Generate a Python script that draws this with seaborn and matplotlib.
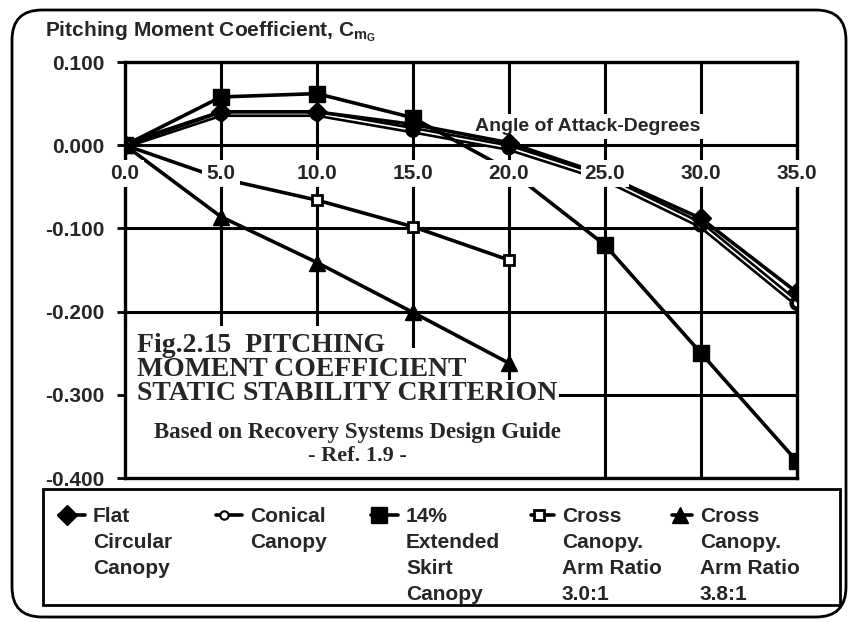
import matplotlib
matplotlib.use("Agg")
import matplotlib.pyplot as plt
import matplotlib.patheffects as pe
from matplotlib.patches import FancyBboxPatch, Rectangle
from matplotlib.lines import Line2D
import seaborn as sns

# values
angles = [0, 5, 10, 15, 20, 25, 30, 35]
flat_circular = [0.0, 0.040, 0.040, 0.025, 0.003, -0.036, -0.088, -0.177]
conical = [0.0, 0.038, 0.038, 0.018, -0.003, -0.040, -0.096, -0.190]
extended_skirt = [0.0, 0.058, 0.062, 0.033, -0.030, -0.120, -0.250, -0.380]
cross_angles = [0, 5, 10, 15, 20]
cross_30 = [0.0, -0.040, -0.066, -0.098, -0.138]
cross_38 = [0.0, -0.086, -0.141, -0.201, -0.262]

legend_labels = ["Flat\nCircular\nCanopy",
                 "Conical\nCanopy",
                 "14%\nExtended\nSkirt\nCanopy",
                 "Cross\nCanopy.\nArm Ratio\n3.0:1",
                 "Cross\nCanopy.\nArm Ratio\n3.8:1"]
x_tick_labels = ["0.0", "5.0", "10.0", "15.0", "20.0", "25.0", "30.0", "35.0"]
y_ticks = [0.1, 0.0, -0.1, -0.2, -0.3, -0.4]
y_tick_labels = ["0.100", "0.000", "-0.100", "-0.200", "-0.300", "-0.400"]
caption = "Fig.2.15  PITCHING\nMOMENT COEFFICIENT\nSTATIC STABILITY CRITERION"

sns.set_theme(style="white")
plt.rcParams["font.family"] = ["Liberation Sans", "DejaVu Sans"]
plt.rcParams["font.weight"] = "bold"
plt.rcParams["axes.labelweight"] = "bold"
plt.rcParams["mathtext.default"] = "regular"

W, H = 849, 622
fig = plt.figure(figsize=(W / 100, H / 100), dpi=100)
ax = fig.add_axes([125 / W, 1 - 478 / H, 672 / W, 416 / H])
ax.set_axisbelow(True)

series = [
    (angles, flat_circular, dict(marker="D", markersize=10, markerfacecolor="black",
                                 markeredgecolor="black", markeredgewidth=1, zorder=4)),
    (angles, conical, dict(marker="o", markersize=6, markerfacecolor="white",
                           markeredgecolor="black", markeredgewidth=1.5, linewidth=1.2,
                           color="white", zorder=3,
                           path_effects=[pe.Stroke(linewidth=5, foreground="black"), pe.Normal()])),
    (angles, extended_skirt, dict(marker="s", markersize=12, markerfacecolor="black",
                                  markeredgecolor="black", markeredgewidth=1, zorder=4)),
    (cross_angles, cross_30, dict(marker="s", markersize=7, markerfacecolor="white",
                                  markeredgecolor="black", markeredgewidth=2, zorder=4)),
    (cross_angles, cross_38, dict(marker="^", markersize=12, markerfacecolor="black",
                                  markeredgecolor="black", markeredgewidth=1, zorder=4)),
]
for xs, ys, kw in series:
    kw.setdefault("color", "black")
    kw.setdefault("linewidth", 2.6)
    sns.lineplot(x=xs, y=ys, ax=ax, legend=False, **kw)

ax.set_xlim(0, 35)
ax.set_ylim(-0.4, 0.1)
ax.set_xticks(angles)
ax.set_xticklabels([])
ax.set_yticks(y_ticks)
ax.set_yticklabels(y_tick_labels, fontsize=15)
ax.tick_params(axis="x", length=0)
ax.tick_params(axis="y", length=6, width=2, color="black", pad=9, left=True)
ax.grid(True, color="black", linewidth=2.2)
for sp in ax.spines.values():
    sp.set_color("black")
    sp.set_linewidth(2.4)

# x tick labels sit on the zero line, over the grid
for a, lab in zip(angles, x_tick_labels):
    ax.text(a, -0.034, lab, ha="center", va="center", fontsize=15, zorder=6, clip_on=False,
            bbox=dict(facecolor="white", edgecolor="none", pad=3))

ax.set_xlabel("Angle of Attack-Degrees", fontsize=14,
              bbox=dict(facecolor="white", edgecolor="none", pad=3))
ax.xaxis.set_label_coords(0.689, 0.865)
ax.set_ylabel(r"Pitching Moment Coefficient, C$_{m_G}$", fontsize=15, rotation=0,
              ha="left", va="center")
ax.yaxis.set_label_coords(-0.119, 1.072)

# white area behind the caption, stepped like the text lines
for x1, ytop in [(14.0, -0.217), (17.3, -0.244), (22.6, -0.282)]:
    ax.add_patch(Rectangle((0, -0.4), x1, ytop + 0.4, facecolor="white",
                           edgecolor="none", zorder=1))
ax.text(0.63, -0.2257, caption, ha="left", va="top", fontsize=20, family="Liberation Serif",
        linespacing=0.95, zorder=1.5)
ax.text(12.1, -0.345, "Based on Recovery Systems Design Guide", ha="center", va="center",
        fontsize=16.5, family="Liberation Serif", zorder=1.5)
ax.text(12.1, -0.373, "- Ref. 1.9 -", ha="center", va="center",
        fontsize=16, family="Liberation Serif", zorder=1.5)

# legend box below the chart
fig.add_artist(Rectangle((43 / W, 1 - 605 / H), 797 / W, 116 / H, transform=fig.transFigure,
                         facecolor="none", edgecolor="black", linewidth=2))
text_x = [93, 250, 406, 562, 700]
marker_x = [67, 224, 379, 539, 680]
for (xs, ys, kw), lab, tx, mx in zip(series, legend_labels, text_x, marker_x):
    y0 = 1 - 515 / H
    fig.add_artist(Line2D([(mx - 8) / W, (tx - 8) / W], [y0, y0], transform=fig.transFigure,
                          color="black", linewidth=2.6))
    mk = dict(kw)
    mk.pop("path_effects", None)
    mk.pop("linewidth", None)
    mk.pop("color", None)
    mk.pop("zorder", None)
    fig.add_artist(Line2D([mx / W], [y0], transform=fig.transFigure, linestyle="none", **mk))
    for i, line in enumerate(lab.split("\n")):
        fig.text(tx / W, 1 - (522 + 26 * i) / H, line, ha="left", va="baseline", fontsize=15)

# rounded outer frame
fig.add_artist(FancyBboxPatch((0.12, 0.05), 8.34, 6.07, transform=fig.dpi_scale_trans,
                              boxstyle="round,pad=0,rounding_size=0.3",
                              facecolor="none", edgecolor="black", linewidth=2))

fig.savefig("out.png", dpi=100)
